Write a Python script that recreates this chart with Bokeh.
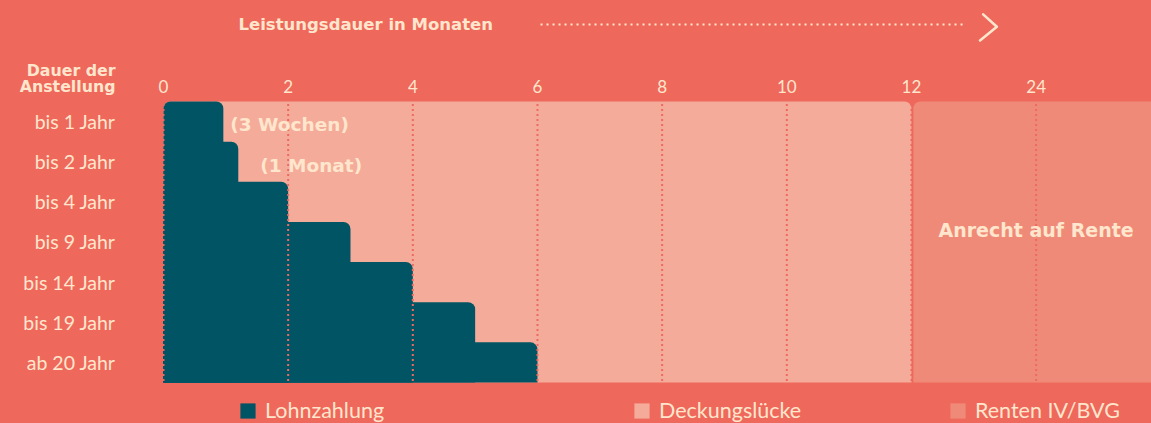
from bokeh.plotting import figure
from bokeh.models import (Range1d, Label, Arrow, Legend,
                          LegendItem, GlobalInlineStyleSheet)
from bokeh.core.properties import value
from bokeh.embed import file_html
from bokeh.resources import INLINE

# ---------------- data ----------------
categories = ["bis 1 Jahr", "bis 2 Jahr", "bis 4 Jahr", "bis 9 Jahr",
              "bis 14 Jahr", "bis 19 Jahr", "ab 20 Jahr"]
lohn_months = [0.96, 1.2, 2, 3, 4, 5, 6]          # Lohnzahlung (months)
notes = ["(3 Wochen)", "(1 Monat)"]
tick_months = [0, 2, 4, 6, 8, 10, 12, 24]
tick_labels = ["0", "2", "4", "6", "8", "10", "12", "24"]
gap_until = 12                                     # Deckungslücke up to 12 months
rente_from = 12                                    # Renten IV/BVG from 12 months
legend_labels = ["Lohnzahlung", "Deckungslücke", "Renten IV/BVG"]


def pos(m):
    # broken month axis: 0..12 linear, 12..24 compressed to two units
    return m if m <= 12 else 12 + (m - 12) / 6


BG = "#EF685C"
LIGHT = "#F5AB9A"
DARK = "#F08A78"
TEAL = "#015464"
CREAM = "#FFE6CC"
DOT = "#EC6A5F"
BOLDF = "DejaVu Sans"
REG = "Lato"

n = len(categories)
p = figure(width=1151, height=423,
           x_range=Range1d(-2.615, 15.851), y_range=Range1d(8.022, -2.516),
           x_axis_type=None, y_axis_type=None,
           output_backend="svg", toolbar_location=None,
           min_border_left=0, min_border_right=0,
           min_border_top=0, min_border_bottom=0,
           background_fill_color=BG, border_fill_color=BG,
           outline_line_color=None)
p.stylesheets = [GlobalInlineStyleSheet(
    css="html, body {margin:0; padding:0; background:%s; overflow:hidden;}" % BG)]
p.xgrid.visible = False
p.ygrid.visible = False

# background regions
gap = p.quad(left=[0], right=[pos(gap_until)], top=[0], bottom=[n],
             fill_color=LIGHT, line_color=None, border_radius=(7, 7, 0, 0))
rente = p.quad(left=[pos(rente_from) + 0.03], right=[16], top=[0], bottom=[n],
               fill_color=DARK, line_color=None, border_radius=(7, 0, 0, 0))

# Lohnzahlung staircase
bars = p.quad(left=[0] * n, right=lohn_months, top=list(range(n)),
              bottom=[n] * n, fill_color=TEAL, line_color=None,
              border_radius=(7, 7, 0, 0))

# dotted month lines (drawn over the bars)
tp = [pos(m) for m in tick_months]
p.segment(x0=tp, y0=[-0.06] * len(tp), x1=tp, y1=[n] * len(tp),
          line_color=DOT, line_width=2, line_dash="2 3")

# month tick labels (top axis)
p.text(x=tp, y=[-0.374] * len(tp), text=tick_labels,
       text_font=value(REG), text_font_size="17px", text_color=CREAM,
       text_align="center", text_baseline="middle")

# row labels (left axis)
p.text(x=[-0.77] * n, y=[i + 0.5 for i in range(n)], text=categories,
       text_font=value(REG), text_font_size="19.5px", text_color=CREAM,
       text_align="right", text_baseline="middle")

# notes next to the first two bars
p.text(x=lohn_months[:2], y=[0.5, 1.5], text=notes, x_offset=[7, 22],
       y_offset=[3, 4], text_font=value(BOLDF), text_font_style="bold",
       text_font_size="18.5px", text_color=CREAM, text_baseline="middle",
       text_align="left")

p.add_layout(Label(x=pos(24), y=3.2, text="Anrecht auf Rente", text_font=BOLDF,
                   text_font_style="bold", text_font_size="19px",
                   text_color=CREAM, text_align="center",
                   text_baseline="middle"))

# y axis title
for txt, yy in (("Dauer der", -0.772), ("Anstellung", -0.374)):
    p.add_layout(Label(x=-0.77, y=yy, text=txt, text_font=BOLDF,
                       text_font_style="bold", text_font_size="15.8px",
                       text_color=CREAM, text_align="right",
                       text_baseline="middle"))

# top title with dotted arrow and chevron
p.add_layout(Label(x=1.203, y=-1.918, text="Leistungsdauer in Monaten",
                   text_font=BOLDF, text_font_style="bold",
                   text_font_size="16.5px", text_color=CREAM,
                   text_align="left", text_baseline="middle"))
p.add_layout(Arrow(x_start=6.049, y_start=-1.918, x_end=12.835, y_end=-1.918,
                   end=None, line_color=CREAM, line_width=2.2,
                   line_dash="2 4"))
p.line(x=[13.15, 13.37, 13.10], y=[-2.17, -1.86, -1.52],
       line_color=CREAM, line_width=2.6, line_join="round", line_cap="round")

# legends
for lab, rend, lx in zip(legend_labels, [bars, gap, rente], [238, 632, 948]):
    lg = Legend(items=[LegendItem(label=lab, renderers=[rend])],
                location=(lx, 0), orientation="horizontal",
                background_fill_alpha=0, border_line_color=None,
                label_text_color=CREAM, label_text_font=REG,
                label_text_font_size="21.5px", glyph_width=19, glyph_height=19,
                label_standoff=8, padding=0, margin=0, spacing=0)
    p.add_layout(lg)

open("out.html", "w").write(file_html(p, INLINE))
